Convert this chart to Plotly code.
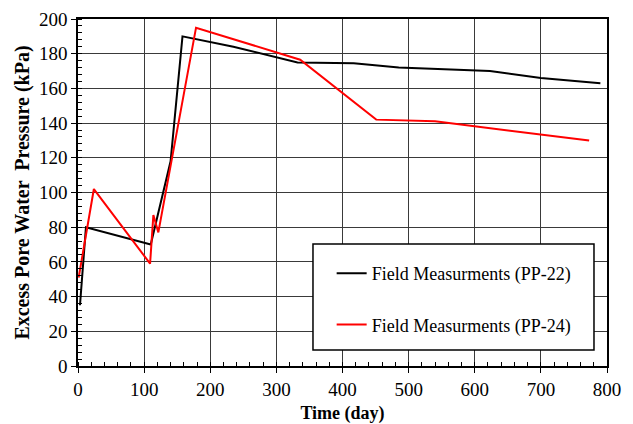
import plotly.graph_objects as go

# PP-22 field measurements
pp22_day = [3, 12, 110, 140, 158, 235, 332, 417, 485, 623, 700, 730, 790]
pp22_kpa = [35, 80, 70, 118, 190, 184, 175, 174.5, 172, 170, 166, 165, 163]

# PP-24 field measurements
pp24_day = [1, 24, 109, 114, 121.5, 178.5, 336, 451, 540, 773]
pp24_kpa = [51, 102, 59, 87, 77, 195, 176.5, 142, 141, 130]

series_names = ["Field Measurments (PP-22)", "Field Measurments (PP-24)"]

FONT = "Liberation Serif, Times New Roman, serif"

fig = go.Figure()
fig.add_trace(go.Scatter(x=pp22_day, y=pp22_kpa, mode="lines", name=series_names[0],
                         line=dict(color="black", width=2), legendgroup="a"))
fig.add_trace(go.Scatter(x=pp24_day, y=pp24_kpa, mode="lines", name=series_names[1],
                         line=dict(color="#ff0000", width=2), legendgroup="b"))

axis_common = dict(
    showline=True, linecolor="black", linewidth=1.5, mirror=True,
    showgrid=True, gridcolor="#3a3a3a", gridwidth=1,
    ticks="outside", ticklen=5, tickcolor="black", tickwidth=1,
    zeroline=False, automargin=False,
    tickfont=dict(family=FONT, size=19, color="black"),
)

fig.update_xaxes(
    range=[0, 800], dtick=100, tick0=0,
    minor=dict(dtick=20, ticks="inside", ticklen=4, tickcolor="black", showgrid=False),
    title=dict(text="<b>Time (day)</b>", font=dict(family=FONT, size=18, color="black"), standoff=12),
    **axis_common,
)
fig.update_yaxes(
    range=[0, 200], dtick=20, tick0=0,
    minor=dict(dtick=4, ticks="inside", ticklen=4, tickcolor="black", showgrid=False),
    title=dict(text="<b>Excess Pore Water  Pressure (kPa)</b>", font=dict(family=FONT, size=20, color="black"), standoff=4),
    **axis_common,
)

# legend box
fig.add_shape(type="rect", xref="paper", yref="paper",
              x0=0.4442, x1=0.9754, y0=0.0461, y1=0.3516,
              line=dict(color="black", width=1.5), fillcolor="white", layer="above")

fig.update_layout(
    width=633, height=424,
    margin=dict(l=78, r=26, t=19, b=58),
    plot_bgcolor="white", paper_bgcolor="white",
    font=dict(family=FONT, size=18, color="black"),
    showlegend=True,
    legend=dict(x=0.4795, y=0.32, xanchor="left", yanchor="top",
                bgcolor="rgba(0,0,0,0)", borderwidth=0,
                traceorder="grouped", tracegroupgap=25,
                font=dict(family=FONT, size=18, color="black")),
)

fig.write_html("out.html")
